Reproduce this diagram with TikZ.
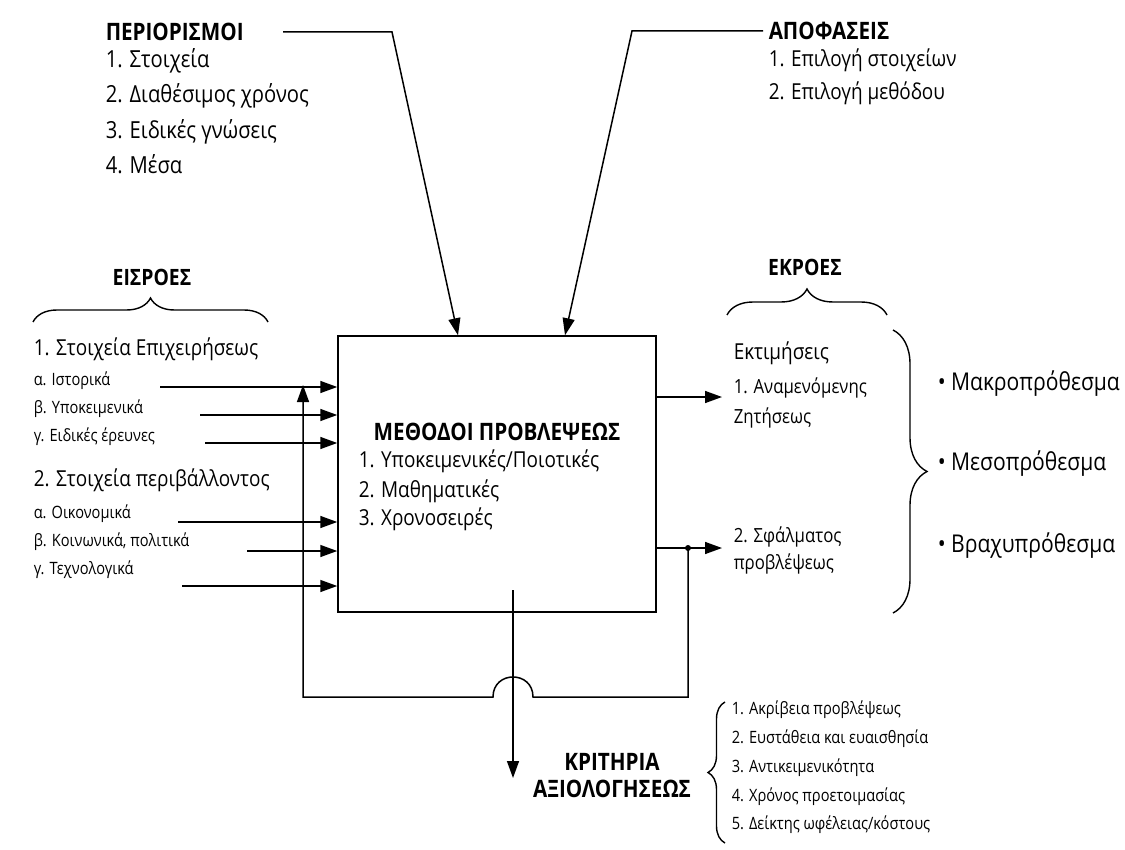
\documentclass[tikz,border=0pt]{standalone}
\usepackage{fontspec}
\setmainfont[FakeStretch=0.86]{Open Sans}
\usetikzlibrary{arrows.meta,decorations.pathreplacing}
\begin{document}
\begin{tikzpicture}[x=1pt,y=-1pt,
  line width=1.5pt,
  arr/.style={-{Triangle[length=17pt,width=12pt]}},
  hd/.style={font=\fontsize{24}{28}\selectfont\bfseries, inner sep=0pt},
  hds/.style={font=\fontsize{22.5}{26}\selectfont\bfseries, inner sep=0pt},
  it/.style={font=\fontsize{22}{26}\selectfont, inner sep=0pt, anchor=mid west},
  itl/.style={font=\fontsize{23.5}{27}\selectfont, inner sep=0pt, anchor=mid west},
  sub/.style={font=\fontsize{17}{20}\selectfont, inner sep=0pt, anchor=mid west},
  rt/.style={font=\fontsize{19.5}{23}\selectfont, inner sep=0pt, anchor=mid west},
  bul/.style={font=\fontsize{24.5}{28}\selectfont, inner sep=0pt, anchor=mid west},
  cr/.style={font=\fontsize{17}{20}\selectfont, inner sep=0pt, anchor=mid west},
  br/.style={decorate, line width=1.4pt}
]
\useasboundingbox (0,0) rectangle (1125,850);

% main box
\node[draw, minimum width=318pt, minimum height=276pt, inner sep=0pt] (box) at (497,474) {};
\node[hd, anchor=center] (meth) at (497,432) {ΜΕΘΟΔΟΙ ΠΡΟΒΛΕΨΕΩΣ};
\node[it] (m1) at (358,465) {1. Υποκειμενικές/Ποιοτικές};
\node[it] (m2) at (358,495) {2. Μαθηματικές};
\node[it] (m3) at (358,523) {3. Χρονοσειρές};

% constraints
\node[hd, anchor=west] (per) at (105,32) {ΠΕΡΙΟΡΙΣΜΟΙ};
\node[itl] (per1) at (105,65) {1. Στοιχεία};
\node[itl] (per2) at (105,100) {2. Διαθέσιμος χρόνος};
\node[itl] (per3) at (105,136) {3. Ειδικές γνώσεις};
\node[itl] (per4) at (105,171) {4. Μέσα};

% decisions
\node[hd, anchor=west] (apo) at (768,31) {ΑΠΟΦΑΣΕΙΣ};
\node[it] (apo1) at (768,64) {1. Επιλογή στοιχείων};
\node[it] (apo2) at (768,97) {2. Επιλογή μεθόδου};

\coordinate (p0) at (283,32);
\coordinate (p1) at (392,32);
\coordinate (t1) at (458,0);
\draw[arr] (p0) -- (p1) -- (box.north -| t1);
\coordinate (q0) at (763,31);
\coordinate (q1) at (632,31);
\coordinate (t2) at (565,0);
\draw[arr] (q0) -- (q1) -- (box.north -| t2);

% inputs
\node[hds, anchor=center] (eis) at (152,277) {ΕΙΣΡΟΕΣ};
\coordinate (eb0) at (33,322);
\coordinate (eb1) at (268,322);
\draw[br, decoration={brace, amplitude=24pt}] (eb0) -- (eb1);

\node[it] (in1) at (33,353) {1. Στοιχεία Επιχειρήσεως};
\node[sub] (ia) at (33,383) {α. Ιστορικά};
\node[sub] (ib) at (33,411) {β. Υποκειμενικά};
\node[sub] (ic) at (33,439) {γ. Ειδικές έρευνες};
\node[it] (in2) at (33,484) {2. Στοιχεία περιβάλλοντος};
\node[sub] (iia) at (33,516) {α. Οικονομικά};
\node[sub] (iib) at (33,544) {β. Κοινωνικά, πολιτικά};
\node[sub] (iic) at (33,572) {γ. Τεχνολογικά};

\coordinate (s1) at (160,387);
\coordinate (s2) at (200,415);
\coordinate (s3) at (205,443);
\coordinate (s4) at (178,522);
\coordinate (s5) at (247,551);
\coordinate (s6) at (182,586);
\foreach \s in {s1,s2,s3,s4,s5,s6}
  \draw[arr] (\s) -- (box.west |- \s);

% outputs
\node[hds, anchor=center] (ekr) at (805,267) {ΕΚΡΟΕΣ};
\coordinate (kb0) at (727,315);
\coordinate (kb1) at (887,315);
\draw[br, decoration={brace, amplitude=26pt}] (kb0) -- (kb1);

\node[it] (est) at (733,357) {Εκτιμήσεις};
\node[rt] (est1) at (733,391) {1. Αναμενόμενης};
\node[rt] (est2) at (733,421) {Ζητήσεως};
\node[rt] (err1) at (733,540) {2. Σφάλματος};
\node[rt] (err2) at (733,567) {προβλέψεως};

\coordinate (o1) at (722,397);
\coordinate (o2) at (722,548);
\draw[arr] (box.east |- o1) -- (o1);
\draw[arr] (box.east |- o2) -- (o2);

\coordinate (rb0) at (893,330);
\coordinate (rb1) at (893,613);
\draw[br, decoration={brace, amplitude=34pt}] (rb0) -- (rb1);
\node[bul] (b1) at (937,388) {• Μακροπρόθεσμα};
\node[bul] (b2) at (937,468) {• Μεσοπρόθεσμα};
\node[bul] (b3) at (937,550) {• Βραχυπρόθεσμα};

% feedback loop
\coordinate (fb) at (688,548);
\fill (fb) circle (3pt);
\coordinate (fb1) at (688,697);
\coordinate (h0) at (533,697);
\coordinate (h1) at (493,697);
\coordinate (fb2) at (303,697);
\coordinate (fb3) at (303,385);
\draw[arr] (fb) -- (fb1) -- (h0) .. controls (533,670.3) and (493,670.3) .. (h1) -- (fb2) -- (fb3);

% evaluation criteria
\coordinate (d0) at (513,590);
\coordinate (d1) at (513,778);
\draw[arr] (d0) -- (d1);
\node[hd, anchor=center] (krit1) at (612,762) {ΚΡΙΤΗΡΙΑ};
\node[hd, anchor=center] (krit2) at (612,789) {ΑΞΙΟΛΟΓΗΣΕΩΣ};
\coordinate (cb0) at (725,843);
\coordinate (cb1) at (725,702);
\draw[br, decoration={brace, amplitude=17pt}] (cb0) -- (cb1);
\node[cr] (c1) at (731,712) {1. Ακρίβεια προβλέψεως};
\node[cr] (c2) at (731,741) {2. Ευστάθεια και ευαισθησία};
\node[cr] (c3) at (731,770) {3. Αντικειμενικότητα};
\node[cr] (c4) at (731,799) {4. Χρόνος προετοιμασίας};
\node[cr] (c5) at (731,827) {5. Δείκτης ωφέλειας/κόστους};
\end{tikzpicture}
\end{document}
